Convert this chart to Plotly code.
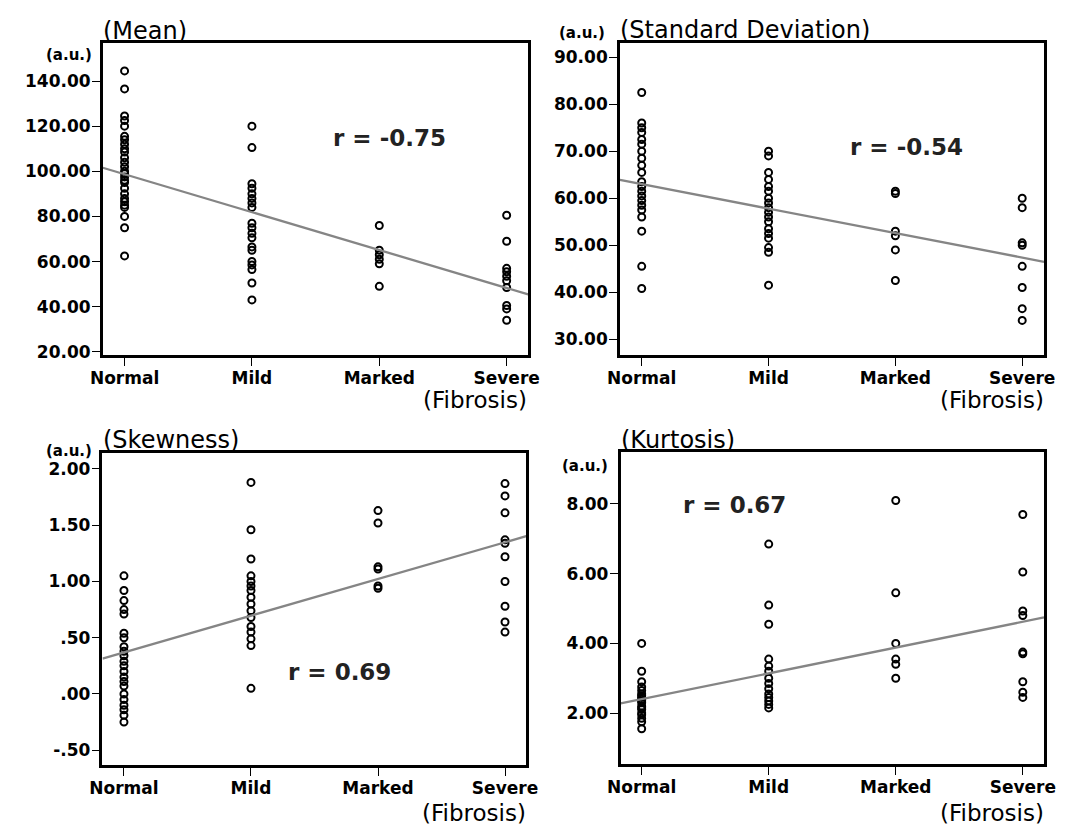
import plotly.graph_objects as go

categories = ["Normal", "Mild", "Marked", "Severe"]

# Mean
mean_normal = [144.5, 136.5, 124.5, 122.5, 120, 115.5, 114, 112, 110, 108.5, 106, 104, 102, 100, 99, 97.5,
               96, 95, 92.5, 90, 88, 86.5, 85, 84, 80, 75, 62.5]
mean_mild = [120, 110.5, 94.5, 92.5, 90, 88, 86, 84, 77, 75, 72.5, 70.5, 66.5, 65, 60, 58.5, 56.5, 50.5, 43]
mean_marked = [76, 65, 63, 61, 59, 49]
mean_severe = [80.5, 69, 57, 55.5, 53.5, 51.5, 48.5, 40.5, 39, 34]

# Standard deviation
sd_normal = [82.5, 76, 75, 74, 72.5, 71.5, 70, 68.5, 67, 65.5, 63.5, 62.5, 61.5, 60.5, 59.5, 58.5, 57.5,
             56, 53, 45.5, 40.8]
sd_mild = [70, 69, 65.5, 64, 62.5, 61.5, 60, 59, 58, 57, 56, 55, 53.5, 52.5, 51.5, 49.5, 48.5, 41.5]
sd_marked = [61.5, 61, 53, 52, 49, 42.5]
sd_severe = [60, 58, 50.5, 50, 45.5, 41, 36.5, 34]

# Skewness
sk_normal = [1.05, 0.92, 0.83, 0.75, 0.71, 0.54, 0.5, 0.42, 0.38, 0.34, 0.29, 0.25, 0.2, 0.15, 0.11, 0.07,
             0.0, -0.05, -0.1, -0.14, -0.19, -0.25]
sk_mild = [1.88, 1.46, 1.2, 1.05, 1.0, 0.96, 0.92, 0.86, 0.8, 0.74, 0.68, 0.6, 0.55, 0.49, 0.43, 0.05]
sk_marked = [1.63, 1.52, 1.13, 1.11, 0.96, 0.94]
sk_severe = [1.87, 1.76, 1.61, 1.37, 1.34, 1.22, 1.0, 0.78, 0.64, 0.55]

# Kurtosis
ku_normal = [4.0, 3.2, 2.9, 2.75, 2.65, 2.55, 2.5, 2.45, 2.4, 2.35, 2.3, 2.2, 2.15, 2.1, 2.0, 1.95, 1.85,
             1.75, 1.55]
ku_mild = [6.85, 5.1, 4.55, 3.55, 3.35, 3.2, 3.0, 2.85, 2.7, 2.55, 2.45, 2.35, 2.25, 2.15]
ku_marked = [8.1, 5.45, 4.0, 3.55, 3.4, 3.0]
ku_severe = [7.7, 6.05, 4.93, 4.8, 3.75, 3.7, 2.9, 2.6, 2.45]

# Fit lines (intercept at Normal, slope per category step) and r labels
fit_intercepts = [98.7, 63.0, 0.370, 2.40]
fit_slopes = [-16.8, -5.21, 0.326, 0.74]
r_labels = ["r = -0.75", "r = -0.54", "r = 0.69", "r = 0.67"]
r_pos_x = [2.08, 2.09, 1.70, 0.73]
r_pos_y = [114.8, 71.0, 0.198, 7.96]

titles = ["(Mean)", "(Standard Deviation)", "(Skewness)", "(Kurtosis)"]

mean_ticks = [20, 40, 60, 80, 100, 120, 140]
mean_ticktext = ["20.00", "40.00", "60.00", "80.00", "100.00", "120.00", "140.00"]
sd_ticks = [30, 40, 50, 60, 70, 80, 90]
sd_ticktext = ["30.00", "40.00", "50.00", "60.00", "70.00", "80.00", "90.00"]
sk_ticks = [-0.5, 0.0, 0.5, 1.0, 1.5, 2.0]
sk_ticktext = ["-.50", ".00", ".50", "1.00", "1.50", "2.00"]
ku_ticks = [2, 4, 6, 8]
ku_ticktext = ["2.00", "4.00", "6.00", "8.00"]

panels = [
    dict(data=[mean_normal, mean_mild, mean_marked, mean_severe], ticks=mean_ticks, ticktext=mean_ticktext,
         xdom=[91 / 1069, 527 / 1069], ydom=[1 - 358 / 832, 1 - 43 / 832],
         xr=[-0.171, 3.169], yr=[18.4, 157.0],
         title_xy=(89, 31), au_xy=(56, 55)),
    dict(data=[sd_normal, sd_mild, sd_marked, sd_severe], ticks=sd_ticks, ticktext=sd_ticktext,
         xdom=[621 / 1069, 1055.7 / 1069], ydom=[1 - 358 / 832, 1 - 43 / 832],
         xr=[-0.172, 3.172], yr=[26.55, 93.1],
         title_xy=(619, 30), au_xy=(582, 33)),
    dict(data=[sk_normal, sk_mild, sk_marked, sk_severe], ticks=sk_ticks, ticktext=sk_ticktext,
         xdom=[90.7 / 1069, 525 / 1069], ydom=[1 - 771 / 832, 1 - 456.7 / 832],
         xr=[-0.169, 3.167], yr=[-0.635, 2.138],
         title_xy=(89, 443), au_xy=(56, 454)),
    dict(data=[ku_normal, ku_mild, ku_marked, ku_severe], ticks=ku_ticks, ticktext=ku_ticktext,
         xdom=[621.7 / 1069, 1055.7 / 1069], ydom=[1 - 770 / 832, 1 - 455.7 / 832],
         xr=[-0.166, 3.167], yr=[0.527, 9.48],
         title_xy=(620, 443), au_xy=(585, 469)),
]

FONT = "DejaVu Sans, Arial, sans-serif"
fig = go.Figure()
annotations = []
layout_axes = {}

for i, p in enumerate(panels):
    n = i + 1
    xa = "x" if n == 1 else f"x{n}"
    ya = "y" if n == 1 else f"y{n}"
    xs, ys = [], []
    for ci, vals in enumerate(p["data"]):
        xs += [ci] * len(vals)
        ys += vals
    fig.add_trace(go.Scatter(
        x=xs, y=ys, mode="markers", xaxis=xa, yaxis=ya, showlegend=False,
        marker=dict(symbol="circle-open", size=7, color="black", line=dict(width=2, color="black")),
    ))
    lx = p["xr"]
    ly = [fit_intercepts[i] + fit_slopes[i] * v for v in lx]
    fig.add_trace(go.Scatter(
        x=lx, y=ly, mode="lines", xaxis=xa, yaxis=ya, showlegend=False,
        line=dict(color="#858585", width=2.3),
    ))
    axis_common = dict(showgrid=False, zeroline=False, showline=True, mirror=True,
                       linecolor="black", linewidth=2.5, ticks="outside", ticklen=8,
                       tickwidth=1.2, tickcolor="black",
                       tickfont=dict(family=FONT, size=17, color="black", weight="bold"))
    xkey = "xaxis" if n == 1 else f"xaxis{n}"
    ykey = "yaxis" if n == 1 else f"yaxis{n}"
    layout_axes[xkey] = dict(axis_common, domain=p["xdom"], range=p["xr"], anchor=ya,
                             tickvals=[0, 1, 2, 3], ticktext=categories, ticklabelstandoff=-3)
    layout_axes[ykey] = dict(axis_common, domain=p["ydom"], range=p["yr"], anchor=xa,
                             tickvals=p["ticks"], ticktext=p["ticktext"], ticklabelstandoff=-2)
    # r label
    annotations.append(dict(x=r_pos_x[i], y=r_pos_y[i], xref=xa, yref=ya, text=f"<b>{r_labels[i]}</b>",
                            showarrow=False, font=dict(family=FONT, size=23, color="#222")))
    # title
    tx, ty = p["title_xy"]
    annotations.append(dict(x=tx / 1069, y=1 - ty / 832, xref="paper", yref="paper", text=titles[i],
                            xanchor="left", yanchor="middle", showarrow=False,
                            font=dict(family=FONT, size=24, color="black")))
    ax_, ay_ = p["au_xy"]
    annotations.append(dict(x=ax_ / 1069, y=1 - ay_ / 832, xref="paper", yref="paper", text="<b>(a.u.)</b>",
                            xanchor="center", yanchor="middle", showarrow=False,
                            font=dict(family=FONT, size=15, color="black")))

# (Fibrosis) labels
fib_pos = [(472, 403), (1002, 403), (471, 819), (1002, 819)]
for fx, fy in fib_pos:
    annotations.append(dict(x=fx / 1069, y=1 - fy / 832, xref="paper", yref="paper", text="(Fibrosis)",
                            xanchor="center", yanchor="middle", showarrow=False,
                            font=dict(family=FONT, size=23, color="black")))

fig.update_layout(
    width=1069, height=832, margin=dict(l=0, r=0, t=0, b=0),
    paper_bgcolor="white", plot_bgcolor="white",
    annotations=annotations, **layout_axes,
)

fig.write_html("out.html", config={"displayModeBar": False},
               post_script="document.body.style.margin='0';document.body.style.overflow='hidden';")
